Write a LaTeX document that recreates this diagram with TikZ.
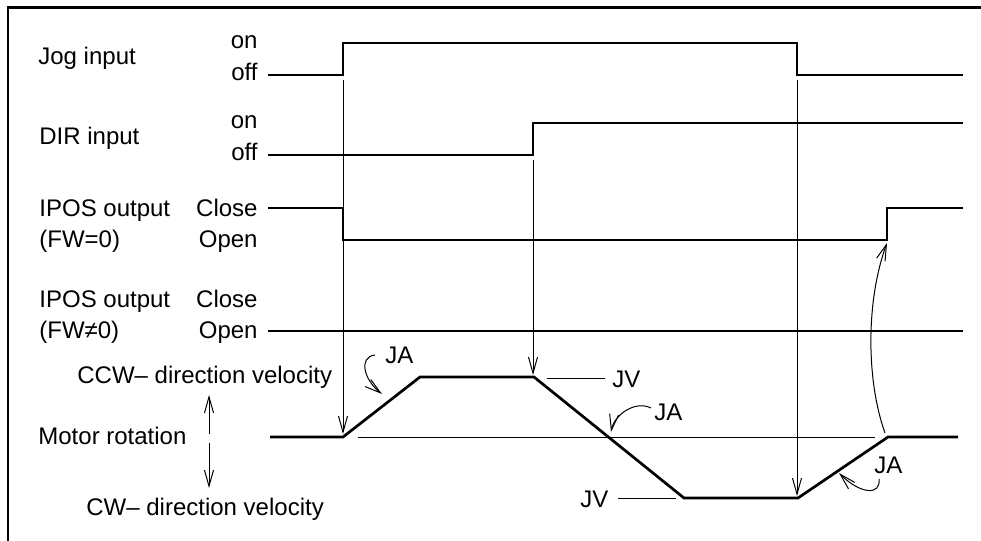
\documentclass[tikz,border=0pt]{standalone}
\usepackage{fontspec}
\setmainfont{Liberation Sans}
\usetikzlibrary{arrows.meta}
\begin{document}
\begin{tikzpicture}[x=0.5pt,y=-0.5pt,
  lbl/.style={inner sep=0pt,font=\fontsize{12}{14}\selectfont},
  sig/.style={line width=1.35pt,line join=miter},
  thinln/.style={line width=0.5pt},
  arr/.style={thinln,-{Straight Barb[length=8pt,width=4.5pt]}}]
\useasboundingbox (0,0) rectangle (981,541);
% frame (top and left edges)
\draw[line width=1.35pt] (8,541) -- (8,7.5) -- (981,7.5);
% labels
\node[lbl,anchor=base west] (jog) at (38,64) {Jog input};
\node[lbl,anchor=base east] (jogon) at (258,48) {on};
\node[lbl,anchor=base east] (jogoff) at (258,80) {off};
\node[lbl,anchor=base west] (dir) at (39,144) {DIR input};
\node[lbl,anchor=base east] (diron) at (258,128) {on};
\node[lbl,anchor=base east] (diroff) at (258,160) {off};
\node[lbl,anchor=base west] (ipa) at (39,216) {IPOS output};
\node[lbl,anchor=base west] (ipb) at (39,247) {(FW=0)};
\node[lbl,anchor=base east] (clA) at (258,216) {Close};
\node[lbl,anchor=base east] (opA) at (258,247) {Open};
\node[lbl,anchor=base west] (ipc) at (39,307) {IPOS output};
\node[lbl,anchor=base west] (ipd) at (39,338) {(FW≠0)};
\node[lbl,anchor=base east] (clB) at (258,307) {Close};
\node[lbl,anchor=base east] (opB) at (258,338) {Open};
\node[lbl,anchor=base west] (ccw) at (77,383) {CCW– direction velocity};
\node[lbl,anchor=base west] (motor) at (38,444) {Motor rotation};
\node[lbl,anchor=base west] (cw) at (86,515) {CW– direction velocity};
\node[lbl,anchor=base west] (ja1) at (385,363) {JA};
\node[lbl,anchor=base west] (jv1) at (612,387) {JV};
\node[lbl,anchor=base west] (ja2) at (654,420) {JA};
\node[lbl,anchor=base west] (jv2) at (580,507) {JV};
\node[lbl,anchor=base west] (ja3) at (874,473) {JA};
% key points
\coordinate (jogup) at (343,75);
\coordinate (jogdn) at (797,75);
\coordinate (dirup) at (533,155);
\coordinate (m0) at (343,437);
\coordinate (m1) at (420,377);
\coordinate (m2) at (534,377);
\coordinate (m3) at (684,498);
\coordinate (m4) at (798,498);
\coordinate (m5) at (888,437);
\coordinate (ipup) at (887,240);
% signals
\draw[sig] (268,75) -- (jogup) -- (343,43) -- (797,43) -- (jogdn) -- (963,75);
\draw[sig] (268,155) -- (dirup) -- (533,123) -- (963,123);
\draw[sig] (268,208) -- (343,208) -- (343,240) -- (ipup) -- (887,208) -- (963,208);
\draw[sig] (268,331) -- (963,331);
\draw[sig] (270,437) -- (m0) -- (m1) -- (m2) -- (m3) -- (m4) -- (m5) -- (958,437);
\draw[thinln] (358,437) -- (875,437);
% JV markers
\draw[thinln] (547,378) -- (605,378);
\draw[thinln] (618,498) -- (676,498);
% timing arrows
\draw[arr] (343,80) -- (343,434);
\draw[arr] (533,160) -- (533,375);
\draw[arr] (797,80) -- (797,496);
\draw[arr] (885,433) .. controls (866,380) and (866,300) .. (887,243);
% JA arrows
\draw[arr] (375,355) .. controls (358,357) and (364,380) .. (382,394);
\draw[arr] (651,408) .. controls (635,400) and (614,415) .. (611,432);
\draw[arr] (879,479) .. controls (881,496) and (860,494) .. (839,473);
% direction arrows
\draw[arr] (209,434) -- (209,395);
\draw[arr] (209,443) -- (209,488);
\end{tikzpicture}
\end{document}
